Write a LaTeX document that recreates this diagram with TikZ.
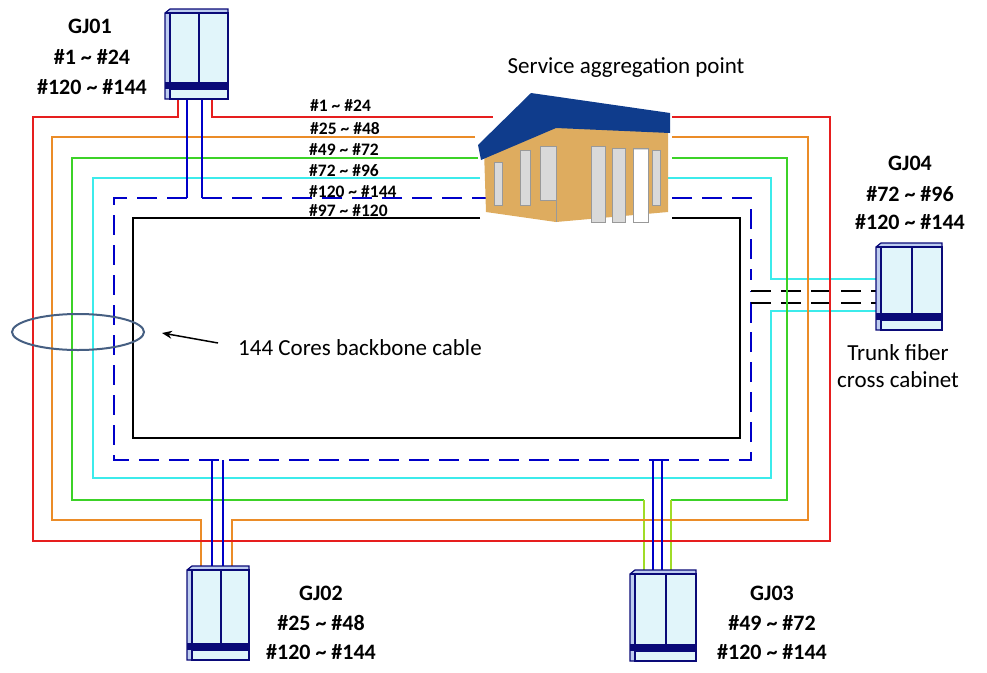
\documentclass[tikz,border=0pt]{standalone}
\usepackage{fontspec}
\setmainfont{Carlito}
\usetikzlibrary{arrows.meta}
\definecolor{cred}{RGB}{230,30,30}
\definecolor{cor}{RGB}{235,140,40}
\definecolor{cgr}{RGB}{60,210,40}
\definecolor{ccy}{RGB}{60,235,235}
\definecolor{cbl}{RGB}{0,0,200}
\definecolor{cab}{RGB}{10,10,120}
\definecolor{cabf}{RGB}{225,245,250}
\definecolor{cabs}{RGB}{190,205,240}
\definecolor{ygr}{RGB}{160,220,40}
\definecolor{tan}{RGB}{222,172,95}
\definecolor{roof}{RGB}{15,60,140}
\definecolor{ell}{RGB}{70,95,130}
\newcommand{\cabinet}[4]{% x1 y1 x2 y2 (top-left, bottom-right)
 \fill[cabs,draw=cab,line width=1.2] (#1,#2+4)--(#1+5,#2)--(#3,#2)--(#3,#4-12)--(#1+5,#4)--(#1,#4)--cycle;
 \fill[cabf,draw=cab,line width=1.2] (#1+5,#2+4)--(#3,#2+4)--(#3,#4-12)--(#1+5,#4-12)--cycle;
 \draw[cab,line width=1.2] (#1,#2+4)--(#1+5,#2+4)--(#1+5,#4-12);
 \fill[cab] (#1,#4-17) rectangle (#3,#4-10);
 \fill[cabf,draw=cab,line width=1.2] (#1+5,#4-10) rectangle (#3,#4);
 \draw[cab,line width=2] ({(#1+5+#3)/2},#2+4)--({(#1+5+#3)/2},#4-16);
}
\begin{document}
\begin{tikzpicture}[x=1pt,y=-1pt,
 w/.style={line width=2},
 bd/.style={cbl,line width=2,dash pattern=on 20 off 10},
 lab/.style={font=\bfseries\fontsize{22}{24}\selectfont,inner sep=0},
 sm/.style={font=\bfseries\fontsize{17.5}{19}\selectfont,inner sep=0,anchor=west},
 big/.style={font=\fontsize{23}{27}\selectfont,inner sep=0}]
\useasboundingbox (0,0) rectangle (987,672);
% black inner
\draw[w,black] (480,218)--(133,218)--(133,438)--(740,438)--(740,218)--(672,218);
% blue dashed
\draw[bd] (187,198)--(114,198)--(114,460)--(751,460)--(751,291);
\draw[bd] (202,198)--(490,198);
\draw[bd] (672,198)--(751,198)--(751,280);
\draw[bd] (751,303)--(751,330);
\draw[black,line width=2,dash pattern=on 20 off 10] (751,291)--(878,291);
\draw[black,line width=2,dash pattern=on 20 off 10] (751,303)--(878,303);
% cyan
\draw[w,ccy] (480,178)--(93,178)--(93,478)--(771,478)--(771,311)--(878,311);
\draw[w,ccy] (668,178)--(771,178)--(771,279)--(878,279);
% green
\draw[w,cgr] (478,158)--(72,158)--(72,500)--(644,500);
\draw[w,cgr] (672,158)--(787,158)--(787,500)--(671,500);
\draw[w,ygr] (644,500)--(644,572);
\draw[w,ygr] (671,500)--(671,572);
% orange
\draw[w,cor] (475,137)--(52,137)--(52,520)--(201,520)--(201,568);
\draw[w,cor] (672,137)--(808,137)--(808,520)--(232,520)--(232,568);
% red
\draw[w,cred] (178,97)--(178,117)--(33,117)--(33,541)--(830,541)--(830,117)--(672,117);
\draw[w,cred] (212,97)--(212,117)--(493,117);
% blue verticals
\draw[w,cbl] (187,97)--(187,198);
\draw[w,cbl] (202,97)--(202,198);
\draw[w,cbl] (212,460)--(212,568);
\draw[w,cbl] (223,460)--(223,568);
\draw[w,cbl] (653,460)--(653,572);
\draw[w,cbl] (662,460)--(662,572);
% cabinets
\cabinet{165}{9}{228}{99}
\cabinet{187}{566}{249}{660}
\cabinet{630}{570}{696}{661}
\cabinet{876}{243}{942}{330}
% building
\fill[tan] (484,150)--(520,112)--(668,130)--(668,212)--(556,222)--(486,212)--cycle;
\draw[black!40,line width=0.6] (556,150)--(556,222);
\foreach \a/\b/\c/\d in {494/162/502/205,520/150/530/205,540/146/556/200,591/146/605/222,612/148/625/222,633/148/648/222,652/150/660/205}
 \fill[black!15,draw=black!40,line width=0.6] (\a,\b) rectangle (\c,\d);
\fill[white] (634,150) rectangle (648,222);
\fill[roof] (481,160)--(478,145)--(531,93)--(670,113)--(670,133)--(556,128)--cycle;
% labels
\node[lab] at (90,26) {GJ01};
\node[lab] at (92,57) {\#1 \textasciitilde{} \#24};
\node[lab] at (92,87) {\#120 \textasciitilde{} \#144};
\node[lab] at (910,163) {GJ04};
\node[lab] at (910,194) {\#72 \textasciitilde{} \#96};
\node[lab] at (910,222) {\#120 \textasciitilde{} \#144};
\node[lab] at (321,593) {GJ02};
\node[lab] at (321,623) {\#25 \textasciitilde{} \#48};
\node[lab] at (321,652) {\#120 \textasciitilde{} \#144};
\node[lab] at (772,593) {GJ03};
\node[lab] at (772,623) {\#49 \textasciitilde{} \#72};
\node[lab] at (772,652) {\#120 \textasciitilde{} \#144};
\node[sm] at (310,106) {\#1 \textasciitilde{} \#24};
\node[sm] at (310,129) {\#25 \textasciitilde{} \#48};
\node[sm] at (309,150) {\#49 \textasciitilde{} \#72};
\node[sm] at (309,171) {\#72 \textasciitilde{} \#96};
\node[sm] at (309,192) {\#120 \textasciitilde{} \#144};
\node[sm] at (309,211) {\#97 \textasciitilde{} \#120};
\node[big] at (626,68) {Service aggregation point};
\node[big,align=center] at (898,366) {Trunk fiber\\cross cabinet};
\node[big,anchor=west] (cable) at (238,348) {144 Cores backbone cable};
\draw[ell,line width=2] (78,332) ellipse [x radius=66,y radius=18];
\coordinate (tip) at (162,333);
\draw[line width=1.5,-{Stealth[length=10,width=8]}] (218,343)--(tip);
\end{tikzpicture}
\end{document}
